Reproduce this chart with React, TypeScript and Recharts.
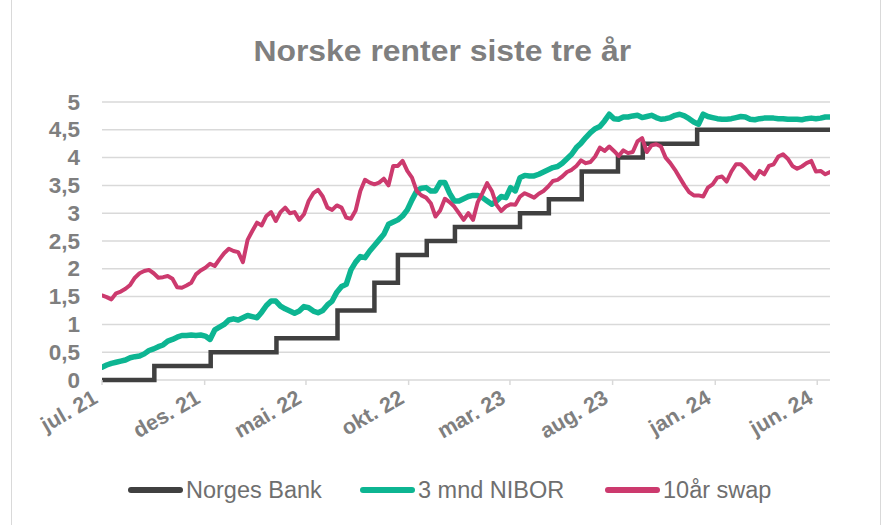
import React from 'react';
import { LineChart, Line, XAxis, YAxis, CartesianGrid } from 'recharts';

// weekly observations starting 2021-07-01
const startDate = '2021-07-01';

const nibor = [
  0.23, 0.27, 0.30, 0.32, 0.34, 0.36, 0.40, 0.42, 0.43, 0.47,
  0.53, 0.56, 0.60, 0.63, 0.70, 0.73, 0.77, 0.80, 0.80, 0.81,
  0.80, 0.81, 0.79, 0.73, 0.90, 0.95, 1.00, 1.08, 1.10, 1.08,
  1.12, 1.16, 1.14, 1.12, 1.22, 1.34, 1.42, 1.42, 1.33, 1.28,
  1.24, 1.20, 1.24, 1.32, 1.30, 1.24, 1.21, 1.25, 1.35, 1.42,
  1.58, 1.68, 1.72, 1.98, 2.12, 2.22, 2.20, 2.32, 2.42, 2.52,
  2.62, 2.80, 2.84, 2.88, 2.95, 3.06, 3.24, 3.40, 3.45, 3.46,
  3.40, 3.40, 3.55, 3.55, 3.36, 3.22, 3.22, 3.26, 3.30, 3.32,
  3.32, 3.28, 3.22, 3.16, 3.22, 3.30, 3.28, 3.46, 3.40, 3.64,
  3.68, 3.67, 3.67, 3.70, 3.74, 3.78, 3.82, 3.84, 3.90, 3.98,
  4.06, 4.18, 4.26, 4.36, 4.45, 4.52, 4.56, 4.66, 4.78, 4.70,
  4.69, 4.73, 4.73, 4.75, 4.76, 4.72, 4.74, 4.76, 4.72, 4.69,
  4.70, 4.72, 4.76, 4.78, 4.75, 4.70, 4.64, 4.60, 4.78, 4.74,
  4.72, 4.70, 4.69, 4.69, 4.70, 4.72, 4.74, 4.73, 4.69, 4.68,
  4.70, 4.71, 4.71, 4.71, 4.70, 4.70, 4.69, 4.69, 4.69, 4.68,
  4.70, 4.71, 4.70, 4.71, 4.73, 4.73,
];

const swap = [
  1.52, 1.49, 1.45, 1.56, 1.59, 1.64, 1.71, 1.84, 1.92, 1.96,
  1.98, 1.92, 1.84, 1.85, 1.87, 1.82, 1.67, 1.66, 1.70, 1.75,
  1.90, 1.97, 2.02, 2.09, 2.05, 2.17, 2.28, 2.36, 2.32, 2.30,
  2.12, 2.52, 2.68, 2.83, 2.78, 2.95, 3.02, 2.86, 3.02, 3.10,
  3.00, 3.02, 2.88, 2.98, 3.22, 3.36, 3.42, 3.30, 3.10, 3.06,
  3.14, 3.10, 2.92, 2.90, 3.05, 3.40, 3.60, 3.55, 3.52, 3.55,
  3.62, 3.50, 3.85, 3.85, 3.94, 3.76, 3.64, 3.40, 3.32, 3.28,
  3.18, 2.94, 3.05, 3.26, 3.20, 3.12, 3.00, 2.88, 3.00, 2.88,
  3.20, 3.36, 3.54, 3.40, 3.15, 3.04, 3.12, 3.16, 3.15, 3.30,
  3.36, 3.32, 3.28, 3.35, 3.40, 3.48, 3.58, 3.60, 3.66, 3.74,
  3.78, 3.85, 3.95, 3.90, 3.92, 4.02, 4.18, 4.12, 4.20, 4.12,
  4.03, 4.13, 4.08, 4.10, 4.29, 4.35, 4.10, 4.22, 4.24, 4.20,
  4.00, 3.90, 3.78, 3.64, 3.50, 3.38, 3.32, 3.32, 3.30, 3.46,
  3.52, 3.64, 3.66, 3.57, 3.75, 3.88, 3.88, 3.80, 3.70, 3.62,
  3.76, 3.70, 3.85, 3.88, 4.02, 4.06, 3.98, 3.85, 3.80, 3.84,
  3.90, 3.94, 3.75, 3.76, 3.70, 3.74,
];

const policyDates = [
  '2021-07-01', '2021-09-17', '2021-12-10', '2022-03-18', '2022-06-17',
  '2022-08-11', '2022-09-15', '2022-10-28', '2022-12-09', '2023-03-16',
  '2023-04-28', '2023-06-16', '2023-08-09', '2023-09-15', '2023-12-05',
  '2024-06-20',
];
const policyRates = [0, 0.25, 0.5, 0.75, 1.25, 1.75, 2.25, 2.5, 2.75, 3, 3.25, 3.75, 4, 4.25, 4.5, 4.5];

const tickDates = ['2021-07-01', '2021-12-01', '2022-05-01', '2022-10-01', '2023-03-01', '2023-08-01', '2024-01-01', '2024-06-01'];
const tickLabels = ['jul. 21', 'des. 21', 'mai. 22', 'okt. 22', 'mar. 23', 'aug. 23', 'jan. 24', 'jun. 24'];
const yTicks = [0, 0.5, 1, 1.5, 2, 2.5, 3, 3.5, 4, 4.5, 5];

const DAY = 86400000;
const t0 = new Date(startDate).getTime();
const data = nibor.map((v, i) => ({ t: t0 + i * 7 * DAY, nibor: v, swap: swap[i] }));
const policyData = policyDates.map((d, i) => ({ t: new Date(d).getTime(), rate: policyRates[i] }));
const xTicks = tickDates.map((d) => new Date(d).getTime());
const tEnd = data[data.length - 1].t;

const FONT = '"Liberation Sans", Arial, sans-serif';
const GRAY = '#7f7f7f';

const XTick = ({ x, y, payload }: any) => {
  const label = tickLabels[xTicks.indexOf(payload.value)];
  return (
    <g transform={`translate(${x - 3},${y + 15})`}>
      <text x={0} y={0} transform="rotate(-30)" textAnchor="end" fill={GRAY}
        fontFamily={FONT} fontWeight="bold" fontSize={21.5}>{label}</text>
    </g>
  );
};

const YTick = ({ x, y, payload }: any) => (
  <text x={x} y={y} dy={7.5} textAnchor="end" fill={GRAY} fontFamily={FONT} fontWeight="bold" fontSize={22.5}>
    {String(payload.value).replace('.', ',')}
  </text>
);

const legendItems = [
  { name: 'Norges Bank', color: '#404040', left: 128 },
  { name: '3 mnd NIBOR', color: '#0db592', left: 360 },
  { name: '10år swap', color: '#cc3a6e', left: 605 },
];

export default function App() {
  return (
    <div style={{ position: 'absolute', left: 0, top: 0, width: 885, height: 525, background: '#fff', overflow: 'hidden', fontFamily: FONT }}>
      <div style={{ position: 'absolute', left: 11, top: -4, width: 870, height: 540, border: '1.5px solid #d9d9d9', boxSizing: 'border-box' }} />
      <div style={{ position: 'absolute', left: 0, width: 885, top: 35, textAlign: 'center', color: GRAY, fontSize: 29, fontWeight: 'bold', transform: 'scaleX(1.1)', transformOrigin: '445px 0' }}>
        Norske renter siste tre år
      </div>
      <div style={{ position: 'absolute', left: 0, top: 0 }}>
        <LineChart width={885} height={525} data={data} margin={{ top: 102, right: 55, bottom: 85, left: 10 }}>
          <CartesianGrid vertical={false} stroke="#d9d9d9" strokeWidth={1.5} />
          <XAxis dataKey="t" type="number" domain={[t0, tEnd]} ticks={xTicks} height={60}
            axisLine={false} tickLine={{ stroke: '#d9d9d9', strokeWidth: 1.5 }} tickSize={5}
            tick={<XTick />} interval={0} allowDataOverflow />
          <YAxis type="number" domain={[0, 5]} ticks={yTicks} width={92} axisLine={false} tickLine={false}
            tickSize={0} tickMargin={22} tick={<YTick />} interval={0} />
          <Line data={policyData} dataKey="rate" type="stepAfter" stroke="#404040" strokeWidth={4.5}
            dot={false} isAnimationActive={false} strokeLinejoin="miter" />
          <Line dataKey="nibor" type="linear" stroke="#0db592" strokeWidth={5.5} dot={false}
            isAnimationActive={false} strokeLinejoin="round" strokeLinecap="round" />
          <Line dataKey="swap" type="linear" stroke="#cc3a6e" strokeWidth={4} dot={false}
            isAnimationActive={false} strokeLinejoin="round" strokeLinecap="round" />
        </LineChart>
      </div>
      {legendItems.map((it) => (
        <div key={it.name} style={{ position: 'absolute', left: it.left, top: 476, height: 28, display: 'flex', alignItems: 'center', whiteSpace: 'nowrap' }}>
          <div style={{ width: 55, height: 6, borderRadius: 3, background: it.color }} />
          <span style={{ marginLeft: 3, fontSize: 23.5, color: '#6f6f6f' }}>{it.name}</span>
        </div>
      ))}
    </div>
  );
}
